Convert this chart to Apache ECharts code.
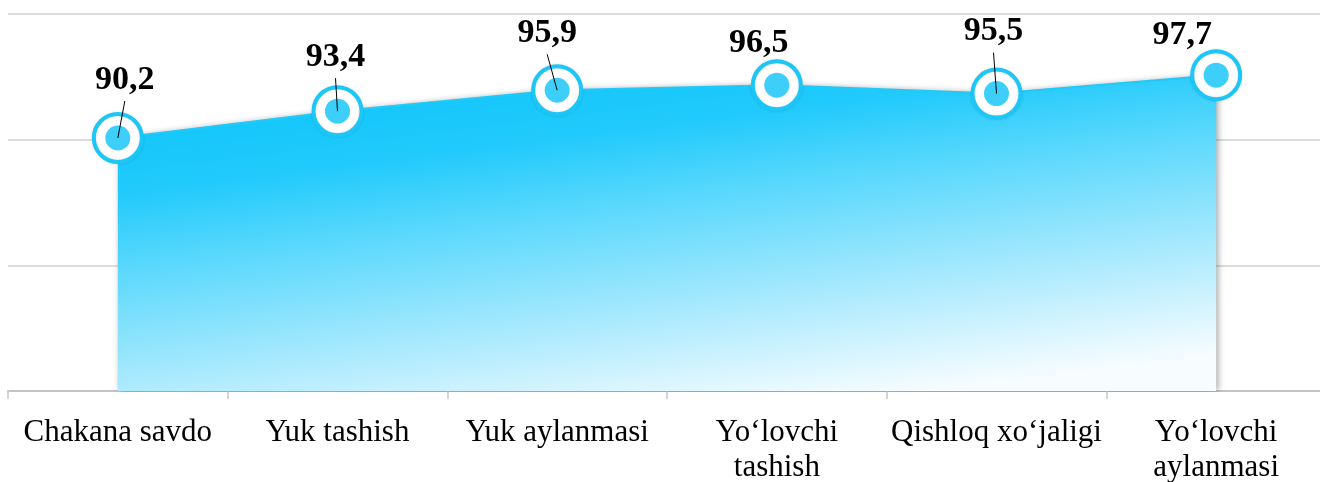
<!DOCTYPE html>
<html>
<head>
<meta charset="utf-8">
<script src="https://cdn.jsdelivr.net/npm/echarts@6/dist/echarts.min.js"></script>
<style>
  html, body { margin: 0; padding: 0; background: #fff; }
  #main { width: 1320px; height: 482px; }
</style>
</head>
<body>
<div id="main"></div>
<script>
// data
const categories = ["Chakana savdo", "Yuk tashish", "Yuk aylanmasi", "Yo‘lovchi\ntashish", "Qishloq xo‘jaligi", "Yo‘lovchi\naylanmasi"];
const values = [90.2, 93.4, 95.9, 96.5, 95.5, 97.7];
const valueLabels = ["90,2", "93,4", "95,9", "96,5", "95,5", "97,7"];

// label placement (pixels from the point), and which labels have a leader line
const labelOffsets = [[7, -58], [-2, -54], [-10, -57], [-18, -42], [-3, -62], [-34, -40]];
const leaderShown = [true, true, true, false, true, false];

var myChart = echarts.init(document.getElementById("main"));

var option = {
  animation: false,
  grid: {
    left: 8,
    top: 14,
    width: 1318,
    bottom: 91,
    outerBoundsMode: "none"
  },
  xAxis: {
    type: "category",
    data: categories,
    axisLine: { lineStyle: { color: "#c4c4c4", width: 2 } },
    axisTick: { show: true, length: 8, lineStyle: { color: "#d4d4d4", width: 2 } },
    axisLabel: {
      interval: 0,
      color: "#000",
      fontFamily: "Liberation Serif",
      fontSize: 31,
      lineHeight: 35,
      margin: 24
    }
  },
  yAxis: {
    type: "value",
    min: 60,
    max: 105,
    interval: 15,
    axisLabel: { show: false },
    axisLine: { show: false },
    axisTick: { show: false },
    splitLine: { lineStyle: { color: "#dcdcdc", width: 2 } }
  },
  series: [
    {
      type: "line",
      data: values,
      symbol: "circle",
      symbolSize: 48,
      z: 2,
      lineStyle: { color: "#22c9f8", width: 2 },
      itemStyle: {
        color: "#fff",
        borderColor: "#1cc6f6",
        borderWidth: 4,
        shadowColor: "rgba(0,0,0,0.12)",
        shadowBlur: 3
      },
      areaStyle: {
        color: new echarts.graphic.LinearGradient(0.005, 0.143, 0.047, 1.3, [
          { offset: 0, color: "#12c6fb" },
          { offset: 0.2, color: "#22cafb" },
          { offset: 0.4, color: "#5ad8fc" },
          { offset: 0.7, color: "#a8e9fd" },
          { offset: 1, color: "#f6fcff" }
        ]),
        opacity: 1,
        shadowColor: "rgba(0,0,0,0.35)",
        shadowBlur: 6,
        shadowOffsetX: 2
      }
    },
    {
      type: "scatter",
      data: values,
      symbolSize: 25,
      z: 3,
      itemStyle: { color: "#0dc3f7" }
    },
    {
      type: "custom",
      z: 5,
      data: values.map(function (v, i) { return [i, v]; }),
      renderItem: function (params, api) {
        var i = params.dataIndex;
        var pt = api.coord([api.value(0), api.value(1)]);
        var lx = pt[0] + labelOffsets[i][0];
        var ly = pt[1] + labelOffsets[i][1];
        var children = [
          {
            type: "text",
            style: {
              text: valueLabels[i],
              x: lx,
              y: ly,
              align: "center",
              verticalAlign: "middle",
              font: "bold 34px 'Liberation Serif'",
              fill: "#000"
            }
          }
        ];
        if (leaderShown[i]) {
          children.push({
            type: "line",
            shape: { x1: lx, y1: ly + 21, x2: pt[0], y2: pt[1] },
            style: { stroke: "#000", lineWidth: 1 }
          });
        }
        return { type: "group", children: children };
      }
    }
  ]
};

myChart.setOption(option);
</script>
</body>
</html>
